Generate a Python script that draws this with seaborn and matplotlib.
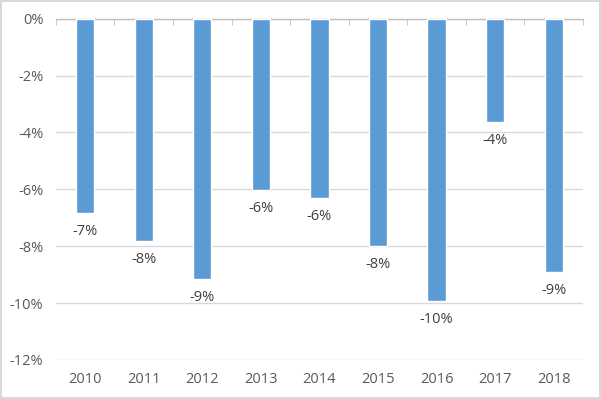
import matplotlib
matplotlib.use("Agg")
import matplotlib.pyplot as plt
import seaborn as sns
import pandas as pd
from matplotlib.ticker import FuncFormatter, MultipleLocator

sns.set_style("white")
plt.rcParams["font.family"] = ["Open Sans", "DejaVu Sans"]

years = ["2010", "2011", "2012", "2013", "2014", "2015", "2016", "2017", "2018"]
change_pct = [-6.84, -7.82, -9.14, -6.02, -6.29, -7.98, -9.93, -3.63, -8.90]

df = pd.DataFrame({"year": years, "change": change_pct})

BAR = "#5B9BD5"
GRID = "#D9D9D9"
TXT = "#595959"

fig = plt.figure(figsize=(6.01, 3.99), dpi=100)
ax = fig.add_axes([0.093, 0.098, 0.877, 0.855])

sns.barplot(data=df, x="year", y="change", color=BAR, width=0.31, saturation=1, ax=ax, zorder=3)

ax.set_ylim(-12, 0)
ax.set_xlim(-0.5, len(years) - 0.5)
ax.yaxis.set_major_locator(MultipleLocator(2))
ax.yaxis.set_major_formatter(FuncFormatter(lambda v, p: f"{v:.0f}%"))
ax.grid(axis="y", color=GRID, linewidth=1, zorder=0)
ax.set_xlabel("")
ax.set_ylabel("")

for s in ["left", "right", "bottom"]:
    ax.spines[s].set_visible(False)
ax.spines["top"].set_color("#BFBFBF")
ax.spines["top"].set_linewidth(1)

# category axis sits at 0%, tick marks between categories
ax.set_xticks([i - 0.5 for i in range(len(years) + 1)], minor=True)
ax.tick_params(axis="x", which="minor", top=True, bottom=False, direction="in",
               length=4, color="#BFBFBF")
ax.tick_params(axis="x", which="major", length=0, labelsize=10.5, labelcolor=TXT, pad=9)
ax.tick_params(axis="y", length=0, labelsize=10.5, labelcolor=TXT, pad=9)

for i, v in enumerate(change_pct):
    ax.annotate(f"{round(v):.0f}%", (i, v), xytext=(0, -8), textcoords="offset points",
                ha="center", va="top", fontsize=10.5, color="#404040")

fig.patch.set_edgecolor(GRID)
fig.patch.set_linewidth(1.5)
plt.savefig("out.png", dpi=100, edgecolor=fig.get_edgecolor())
